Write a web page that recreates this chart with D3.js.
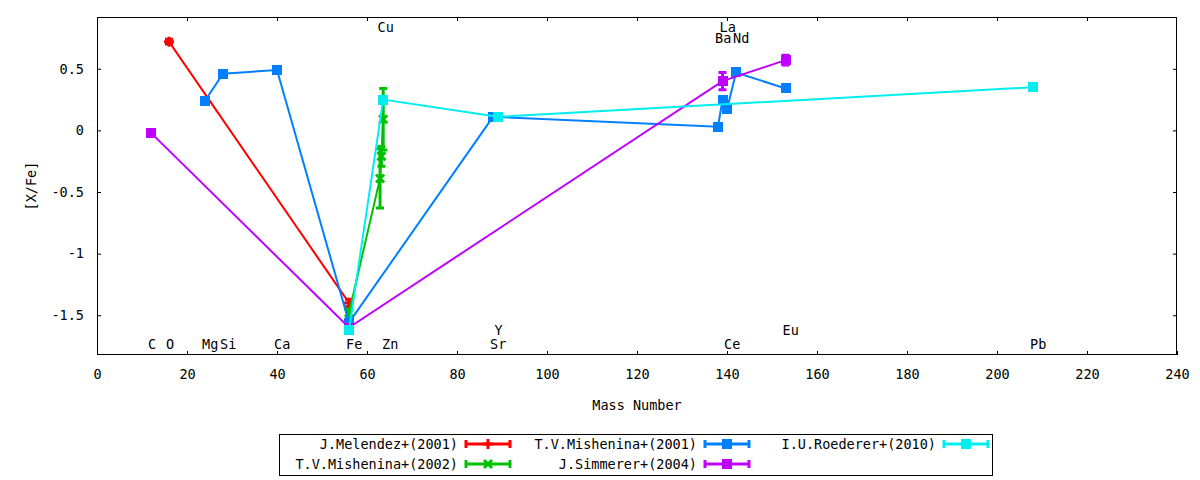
<!DOCTYPE html>
<html>
  <head>
    <title></title>
    <style>
      body, html{
        margin: 0;
        width: 100%;
        height: 100%;
        background: #fff;
      }
      svg text{
        font-family: "DejaVu Sans Mono", monospace;
        font-size: 13.5px;
        fill: #000;
      }
    </style>
  </head>
  <body>
    <div id="chart"></div>
    <script src="https://cdnjs.cloudflare.com/ajax/libs/d3/7.8.5/d3.min.js" charset="utf-8"></script>
    <script>

      // [mass number, [X/Fe], error]
      var melendez2001 = [[16, 0.72, 0.02], [56, -1.40, 0.03]]
      var mishenina2002 = [[56, -1.48, 0.03], [62.9, -0.39, 0.24], [63.2, -0.21, 0.08], [63.6, 0.09, 0.25]]
      var mishenina2001 = [[24, 0.24, 0.02], [28, 0.46, 0.02], [40, 0.49, 0.02], [56, -1.56, 0.02],
                           [88, 0.11, 0.02], [138, 0.03, 0.02], [139, 0.25, 0.02], [140, 0.17, 0.02],
                           [142, 0.47, 0.02], [153, 0.34, 0.02]]
      var simmerer2004 = [[12, -0.02, 0.02], [56, -1.60, 0.02], [139, 0.40, 0.07], [153, 0.57, 0.04]]
      var roederer2010 = [[56, -1.62, 0.02], [63.6, 0.25, 0.02], [89, 0.11, 0.02], [208, 0.35, 0.02]]

      var seriesNames = ['J.Melendez+(2001)', 'T.V.Mishenina+(2002)', 'T.V.Mishenina+(2001)',
                         'J.Simmerer+(2004)', 'I.U.Roederer+(2010)']
      var seriesData = [melendez2001, mishenina2002, mishenina2001, simmerer2004, roederer2010]

      // element name, mass number, label height
      var elementLabels = [['C', 12, -1.735], ['O', 16, -1.735], ['Mg', 24, -1.735], ['Si', 28, -1.735],
                           ['Ca', 40, -1.735], ['Fe', 56, -1.735], ['Zn', 64, -1.735], ['Sr', 88, -1.735],
                           ['Y', 89, -1.62], ['Ce', 140, -1.735], ['Eu', 153, -1.62], ['Pb', 208, -1.735],
                           ['Cu', 63, 0.835], ['La', 139, 0.84], ['Ba', 138, 0.75], ['Nd', 142, 0.75]]

      var xTicks = [0, 20, 40, 60, 80, 100, 120, 140, 160, 180, 200, 220, 240]
      var yTicks = [-1.5, -1, -0.5, 0, 0.5]

      var colors = ['#ff0000', '#00c000', '#0080ff', '#c000ff', '#00eeee']
      var markers = ['plus', 'cross', 'square', 'square', 'square']

      var width = 1200, height = 480
      var plotLeft = 97, plotRight = 1177, plotTop = 17, plotBottom = 355

      var x = d3.scaleLinear().domain([0, 240]).range([plotLeft, plotRight])
      var y = d3.scaleLinear().domain([-1.8225, 0.92]).range([plotBottom, plotTop])

      var svg = d3.select('#chart').append('svg')
        .attr('width', width).attr('height', height)

      function fmt(d){ return String(d) }

      // axes, ticks pointing inward on all four sides like gnuplot
      svg.append('g').attr('transform', 'translate(0,' + plotBottom + ')')
        .call(d3.axisBottom(x).tickValues(xTicks).tickFormat(fmt).tickSize(-4).tickPadding(14))
      svg.append('g').attr('transform', 'translate(0,' + plotTop + ')')
        .call(d3.axisTop(x).tickValues(xTicks.slice(1, -1)).tickFormat('').tickSize(-4))
      svg.append('g').attr('transform', 'translate(' + plotLeft + ',0)')
        .call(d3.axisLeft(y).tickValues(yTicks).tickFormat(fmt).tickSize(-4).tickPadding(13))
      svg.append('g').attr('transform', 'translate(' + plotRight + ',0)')
        .call(d3.axisRight(y).tickValues(yTicks).tickFormat('').tickSize(-4))
      svg.selectAll('.domain').remove()
      svg.selectAll('.tick line').attr('stroke', '#000')
      svg.selectAll('g[font-family]').attr('font-family', null).attr('font-size', null)

      svg.append('rect')
        .attr('x', plotLeft + 0.5).attr('y', plotTop + 0.5)
        .attr('width', plotRight - plotLeft - 1).attr('height', plotBottom - plotTop - 1)
        .attr('fill', 'none').attr('stroke', '#000')

      svg.append('text').attr('x', (plotLeft + plotRight) / 2).attr('y', 410)
        .attr('text-anchor', 'middle').text('Mass Number')
      svg.append('text').attr('transform', 'translate(36,' + (plotTop + plotBottom) / 2 + ') rotate(-90)')
        .attr('text-anchor', 'middle').text('[X/Fe]')

      // element labels
      svg.append('g').selectAll('text').data(elementLabels).enter().append('text')
        .attr('x', function(d){ return x(d[1]) - 3 })
        .attr('y', function(d){ return y(d[2]) })
        .attr('dy', '0.36em')
        .text(function(d){ return d[0] })

      function drawMarker(g, type, cx, cy, color){
        if(type === 'square'){
          g.append('rect').attr('x', cx - 5).attr('y', cy - 5).attr('width', 10).attr('height', 10)
            .attr('fill', color).attr('shape-rendering', 'crispEdges')
        } else if(type === 'plus'){
          g.append('path').attr('d', 'M' + (cx - 5) + ',' + cy + 'H' + (cx + 5) + 'M' + cx + ',' + (cy - 5) + 'V' + (cy + 5))
            .attr('stroke', color).attr('stroke-width', 3).attr('fill', 'none')
        } else {
          g.append('path').attr('d', 'M' + (cx - 4) + ',' + (cy - 4) + 'L' + (cx + 4) + ',' + (cy + 4) +
                                     'M' + (cx - 4) + ',' + (cy + 4) + 'L' + (cx + 4) + ',' + (cy - 4))
            .attr('stroke', color).attr('stroke-width', 3).attr('fill', 'none')
        }
      }

      function drawErrorBar(g, cx, y0, y1, color){
        g.append('path')
          .attr('d', 'M' + cx + ',' + y0 + 'V' + y1 +
                     'M' + (cx - 4) + ',' + y0 + 'H' + (cx + 4) +
                     'M' + (cx - 4) + ',' + y1 + 'H' + (cx + 4))
          .attr('stroke', color).attr('stroke-width', 3).attr('fill', 'none')
      }

      var line = d3.line().x(function(d){ return x(d[0]) }).y(function(d){ return y(d[1]) })

      seriesData.forEach(function(data, i){
        var g = svg.append('g')
        var color = colors[i]
        g.append('path').datum(data).attr('d', line)
          .attr('fill', 'none').attr('stroke', color).attr('stroke-width', 2)
        data.forEach(function(d){
          drawErrorBar(g, x(d[0]), y(d[1] - d[2]), y(d[1] + d[2]), color)
        })
        data.forEach(function(d){
          drawMarker(g, markers[i], x(d[0]), y(d[1]), color)
        })
      })

      // legend
      var legend = svg.append('g')
      legend.append('rect').attr('x', 279.5).attr('y', 434.5).attr('width', 713).attr('height', 41)
        .attr('fill', 'none').attr('stroke', '#000')
      var colText = [458, 697, 936], colSample = [466, 705, 944], rowY = [444, 464]
      seriesNames.forEach(function(name, i){
        var col = Math.floor(i / 2), row = i % 2
        var ly = rowY[row], lx = colSample[col]
        legend.append('text').attr('x', colText[col]).attr('y', ly).attr('dy', '0.36em')
          .attr('text-anchor', 'end').text(name)
        legend.append('path')
          .attr('d', 'M' + lx + ',' + ly + 'H' + (lx + 44) +
                     'M' + lx + ',' + (ly - 4) + 'V' + (ly + 4) +
                     'M' + (lx + 44) + ',' + (ly - 4) + 'V' + (ly + 4))
          .attr('stroke', colors[i]).attr('stroke-width', 3).attr('fill', 'none')
        drawMarker(legend, markers[i], lx + 22, ly, colors[i])
      })

    </script>
  </body>
</html>
